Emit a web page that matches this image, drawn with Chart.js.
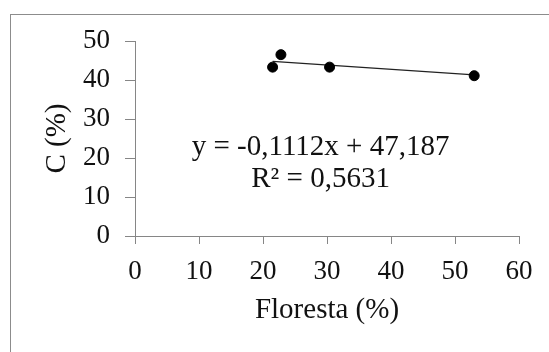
<!DOCTYPE html>
<html>
<head>
<meta charset="utf-8">
<script src="https://cdn.jsdelivr.net/npm/chart.js@4.4.1/dist/chart.umd.min.js"></script>
<style>
  html, body { margin: 0; padding: 0; background: #fff; }
  #wrap { width: 549px; height: 352px; position: relative; }
</style>
</head>
<body>
<div id="wrap"><canvas id="grafica"></canvas></div>
<script>
// valores
const floresta = [21.5, 22.8, 30.4, 53.0];
const carbono = [43.3, 46.5, 43.3, 41.1];
const tendenciaX = [21.5, 53.0];
const tendenciaY = [44.8, 41.3];
const ecuacion = "y = -0,1112x + 47,187";
const r2 = "R² = 0,5631";

const serif = "'Liberation Serif', 'Times New Roman', serif";
const gris = "#868686";

const marco = {
  id: "marco",
  beforeDraw(chart) {
    const ctx = chart.ctx;
    ctx.save();
    ctx.fillStyle = "#fff";
    ctx.fillRect(0, 0, chart.width, chart.height);
    ctx.strokeStyle = "#8c8c8c";
    ctx.lineWidth = 1;
    ctx.strokeRect(10.5, 14.5, 800, 600);
    ctx.restore();
  }
};

const textoEcuacion = {
  id: "textoEcuacion",
  afterDatasetsDraw(chart) {
    const { ctx, scales: { x, y } } = chart;
    ctx.save();
    ctx.fillStyle = "#111";
    ctx.font = "29px " + serif;
    ctx.textAlign = "center";
    ctx.textBaseline = "middle";
    ctx.fillText(ecuacion, x.getPixelForValue(29), y.getPixelForValue(22.6));
    ctx.fillText(r2, x.getPixelForValue(29), y.getPixelForValue(14.6));
    ctx.restore();
  }
};

const puntos = floresta.map((v, i) => ({ x: v, y: carbono[i] }));
const tendencia = tendenciaX.map((v, i) => ({ x: v, y: tendenciaY[i] }));

new Chart(document.getElementById("grafica"), {
  type: "scatter",
  data: {
    datasets: [
      {
        label: "C",
        data: puntos,
        backgroundColor: "#000",
        borderColor: "#000",
        pointRadius: 5,
        pointHoverRadius: 5
      },
      {
        label: "tendencia",
        type: "line",
        data: tendencia,
        borderColor: "#222",
        borderWidth: 1.3,
        pointRadius: 0,
        fill: false
      }
    ]
  },
  options: {
    responsive: true,
    maintainAspectRatio: false,
    animation: false,
    layout: { padding: { left: 0, top: 41, right: 30, bottom: 0 } },
    plugins: { legend: { display: false }, tooltip: { enabled: false } },
    scales: {
      x: {
        type: "linear",
        min: 0,
        max: 60,
        ticks: { stepSize: 10, color: "#111", font: { family: serif, size: 27 }, padding: 12 },
        grid: { drawOnChartArea: false, color: gris, tickLength: 8 },
        border: { color: gris, width: 1 },
        title: {
          display: true,
          text: "Floresta (%)",
          color: "#111",
          font: { family: serif, size: 29 },
          padding: { top: 0, bottom: 24 }
        },
        afterFit(s) { s.height = 116; }
      },
      y: {
        type: "linear",
        min: 0,
        max: 50,
        ticks: { stepSize: 10, color: "#111", font: { family: serif, size: 27 }, padding: 15 },
        grid: { drawOnChartArea: false, color: gris, tickLength: 10 },
        border: { color: gris, width: 1 },
        title: {
          display: true,
          text: "C (%)",
          color: "#111",
          font: { family: serif, size: 29 },
          padding: { top: 40, bottom: 0 }
        },
        afterFit(s) { s.width = 135; }
      }
    }
  },
  plugins: [marco, textoEcuacion]
});
</script>
</body>
</html>
